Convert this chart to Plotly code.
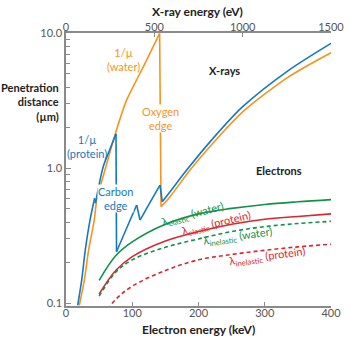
import plotly.graph_objects as go

# ---- X-ray attenuation length 1/mu (um) versus photon energy (eV), top axis ----
# water: below and above the oxygen K edge
water_low_ev = [75, 104, 128, 160, 174, 226, 280, 343, 419, 475, 530]
water_low_um = [0.096, 0.149, 0.248, 0.414, 0.58, 1.03, 1.82, 3.2, 5.06, 7.1, 10.0]
water_high_ev = [538, 589, 702, 815, 1000, 1258, 1500]
water_high_um = [0.52, 0.617, 0.97, 1.45, 2.62, 4.74, 7.18]

# protein: segments between the S L, C K, N K and O K edges
protein_s_ev = [66, 89, 109, 136, 162]
protein_s_um = [0.096, 0.149, 0.248, 0.414, 0.60]
protein_c_ev = [167, 211, 248, 283]
protein_c_um = [0.553, 1.03, 1.38, 1.80]
protein_n_ev = [286, 343, 400]
protein_n_um = [0.241, 0.36, 0.535]
protein_o_ev = [419, 475, 532]
protein_o_um = [0.414, 0.558, 0.752]
protein_high_ev = [545, 589, 683, 815, 1000, 1258, 1500]
protein_high_um = [0.566, 0.671, 0.97, 1.57, 2.86, 5.3, 8.43]

# ---- Electron mean free paths (um) versus electron energy (keV), bottom axis ----
e_kev = [50, 75, 100, 150, 200, 250, 300, 350, 400]
elastic_water = [0.148, 0.225, 0.285, 0.385, 0.46, 0.505, 0.54, 0.565, 0.586]
elastic_protein = [0.117, 0.175, 0.222, 0.29, 0.34, 0.385, 0.42, 0.44, 0.46]
inelastic_water = [0.113, 0.17, 0.21, 0.26, 0.30, 0.34, 0.37, 0.39, 0.405]
inelastic_protein = [0.075, 0.107, 0.134, 0.175, 0.21, 0.23, 0.247, 0.262, 0.274]

y_ticks = [0.1, 1.0, 10.0]
y_ticktext = ["0.1", "1.0", "10.0"]
y_minor = [m * d for d in (0.1, 1.0) for m in range(2, 10)]
kev_ticks = [0, 100, 200, 300, 400]
ev_ticks = [0, 500, 1000, 1500]

BLUE = "#1479c0"
ORANGE = "#f7941d"
GREEN = "#10924a"
RED = "#d7282f"
AXIS = "#8a8a8a"
FONT = "Lato"
TICKFONT = dict(family=FONT, size=11, color="#555555")

W, H = 350, 338
X0, X1 = 66, 331          # plot area, pixels
Y0, Y1 = 33.3, 305.5


def px(x):
    return x / W


def py(y):
    return 1 - y / H


fig = go.Figure()


def xray_curve(segments, color):
    """Smooth pieces between absorption edges, joined by straight edge jumps."""
    for i, (ev, um) in enumerate(segments):
        fig.add_trace(go.Scatter(x=ev, y=um, xaxis="x2", yaxis="y", mode="lines",
                                 line=dict(color=color, width=1.6, shape="spline", smoothing=0.8),
                                 hoverinfo="skip"))
        if i + 1 < len(segments):
            nxt_ev, nxt_um = segments[i + 1]
            fig.add_trace(go.Scatter(x=[ev[-1], nxt_ev[0]], y=[um[-1], nxt_um[0]],
                                     xaxis="x2", yaxis="y", mode="lines",
                                     line=dict(color=color, width=1.6), hoverinfo="skip"))


xray_curve([(water_low_ev, water_low_um), (water_high_ev, water_high_um)], ORANGE)
xray_curve([(protein_s_ev, protein_s_um), (protein_c_ev, protein_c_um),
            (protein_n_ev, protein_n_um), (protein_o_ev, protein_o_um),
            (protein_high_ev, protein_high_um)], BLUE)

for vals, color, dash in [(elastic_water, GREEN, "solid"), (elastic_protein, RED, "solid"),
                          (inelastic_water, GREEN, "4px,3px"), (inelastic_protein, RED, "4px,3px")]:
    fig.add_trace(go.Scatter(x=e_kev, y=vals, mode="lines",
                             line=dict(color=color, width=1.6, dash=dash, shape="spline"),
                             hoverinfo="skip"))

ann = []


def label(x, y, text, color="#222222", size=11, bold=False, angle=0, align="center",
          xanchor="center", bg=None):
    if bold:
        text = "<b>" + text + "</b>"
    a = dict(x=px(x), y=py(y), xref="paper", yref="paper", text=text, showarrow=False,
             font=dict(family=FONT, size=size, color=color), textangle=angle,
             align=align, xanchor=xanchor, yanchor="middle")
    if bg:
        a.update(bgcolor=bg, borderpad=0)
    ann.append(a)


label(197, 11, "X-ray energy (eV)", bold=True, size=12)
label(198, 329, "Electron energy (keV)", bold=True, size=12)
label(61, 102, "Penetration<br>distance<br>(µm)", bold=True, size=11, align="right",
      xanchor="right")
label(224, 71, "X-rays", bold=True, size=11)
label(279, 170, "Electrons", bold=True, size=11)

label(124, 59, "1/µ<br>(water)", color=ORANGE)
label(160, 118, "Oxygen<br>edge", color=ORANGE, bg="white")
label(87, 146, "1/µ<br>(protein)", color=BLUE)
label(115.5, 198, "Carbon<br>edge", color=BLUE, bg="white")

label(192, 214, "λ<sub>elastic</sub> (water)", color=GREEN, angle=-15)
label(216, 223, "λ<sub>elastic</sub> (protein)", color=RED, angle=-13.5)
label(238, 236.5, "λ<sub>inelastic</sub> (water)", color=GREEN, angle=-8)
label(267, 256.5, "λ<sub>inelastic</sub> (protein)", color=RED, angle=-7.5)

x_dom = [px(X0), px(X1)]
y_dom = [py(Y1), py(Y0)]
common = dict(ticks="inside", tickcolor=AXIS, tickwidth=1.2, showline=True, linecolor=AXIS,
              linewidth=1.5, showgrid=False, zeroline=False, tickfont=TICKFONT,
              automargin=False, fixedrange=True)

fig.update_layout(
    width=W, height=H,
    margin=dict(l=0, r=0, t=0, b=0, autoexpand=False),
    paper_bgcolor="white", plot_bgcolor="white",
    showlegend=False,
    annotations=ann,
    xaxis=dict(domain=x_dom, range=[0, 400], tickvals=kev_ticks, ticklen=4, anchor="y",
               ticklabelstandoff=-3, **common),
    xaxis2=dict(domain=x_dom, range=[0, 1500], tickvals=ev_ticks, ticklen=4, side="top",
                overlaying="x", anchor="y", ticklabelstandoff=-4, **common),
    yaxis=dict(domain=y_dom, type="log", range=[-1.016, 1.0], tickvals=y_ticks,
               ticktext=y_ticktext, ticklen=5,
               minor=dict(tickvals=y_minor, ticks="inside", ticklen=4, tickcolor=AXIS,
                          tickwidth=1.2, showgrid=False),
               **common),
)

fig.write_html("out.html", config={"displayModeBar": False})
